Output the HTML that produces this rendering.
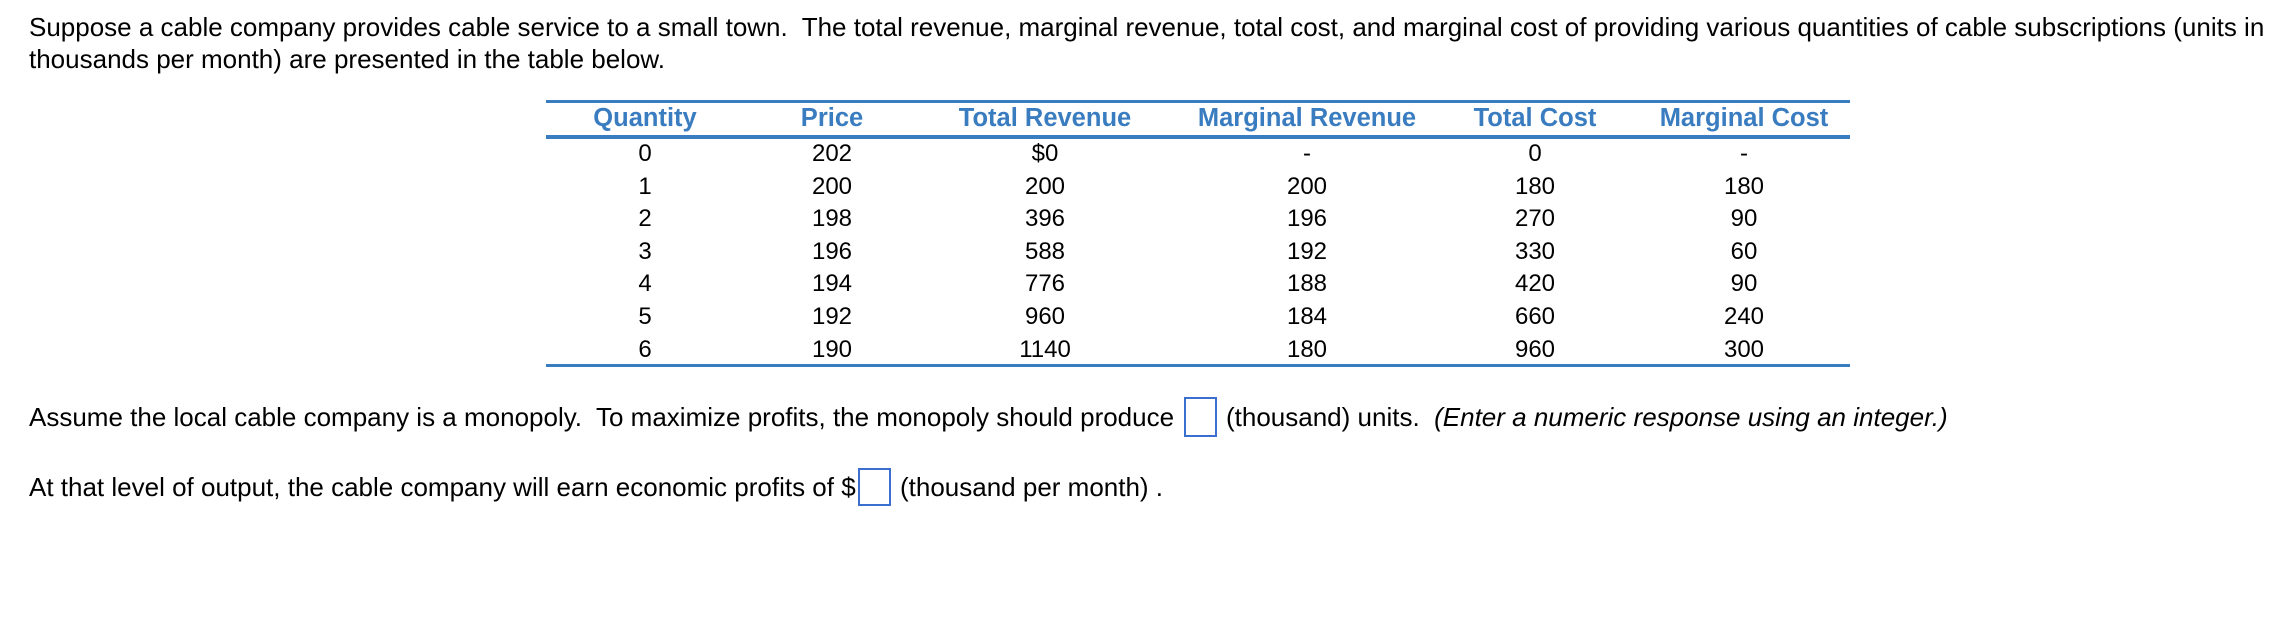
<!DOCTYPE html>
<html><head><meta charset="utf-8"><style>
body{margin:0;width:2296px;height:638px;background:#fff;position:relative;overflow:hidden;font-family:"Liberation Sans",Arial,sans-serif;color:#000}
.t{position:absolute;font-size:26px;white-space:nowrap;line-height:1}
.c{position:absolute;font-size:24px;line-height:1;transform:translateX(-50%);white-space:nowrap}
.h{color:#3a7cc0;font-weight:bold;font-size:25.5px}
.rule{position:absolute;left:546px;width:1304px;background:#3a7cc0}
.box{position:absolute;border:2px solid #3a6fd0;box-sizing:border-box;background:#fff}
</style></head><body>
<div class="t" style="left:29px;top:14px">Suppose a cable company provides cable service to a small town.&nbsp; The total revenue, marginal revenue, total cost, and marginal cost of providing various quantities of cable subscriptions (units in</div>
<div class="t" style="left:29px;top:46px">thousands per month) are presented in the table below.</div>

<div class="rule" style="top:100px;height:3px"></div>
<div class="rule" style="top:135px;height:4px"></div>
<div class="rule" style="top:364px;height:3px"></div>
<div id="tbl"></div>

<div class="t" style="left:29px;top:404px">Assume the local cable company is a monopoly.&nbsp; To maximize profits, the monopoly should produce</div>
<div class="box" style="left:1184px;top:397px;width:33px;height:40px"></div>
<div class="t" style="left:1226px;top:404px">(thousand) units.&nbsp; <i>(Enter a numeric response using an integer.)</i></div>

<div class="t" style="left:29px;top:474px">At that level of output, the cable company will earn economic profits of $</div>
<div class="box" style="left:858px;top:468px;width:33px;height:38px"></div>
<div class="t" style="left:900px;top:474px">(thousand per month) .</div>

<script>
const headers=["Quantity","Price","Total Revenue","Marginal Revenue","Total Cost","Marginal Cost"];
const quantity=["0","1","2","3","4","5","6"];
const price=["202","200","198","196","194","192","190"];
const totalRevenue=["$0","200","396","588","776","960","1140"];
const marginalRevenue=["-","200","196","192","188","184","180"];
const totalCost=["0","180","270","330","420","660","960"];
const marginalCost=["-","180","90","60","90","240","300"];
const cols=[quantity,price,totalRevenue,marginalRevenue,totalCost,marginalCost];
const names=["quantity","price","total-revenue","marginal-revenue","total-cost","marginal-cost"];
const xs=[645,832,1045,1307,1535,1744];
const tbl=document.getElementById('tbl');
headers.forEach((h,i)=>{
  const d=document.createElement('div');
  d.className='c h';
  
  
  d.style.left=xs[i]+'px';d.style.top='106px';d.textContent=h;tbl.appendChild(d);
});
cols.forEach((col,i)=>{
  col.forEach((v,r)=>{
    const d=document.createElement('div');
    d.className='c';
    
    
    d.style.left=xs[i]+'px';d.style.top=(142+r*32.6)+'px';d.textContent=v;tbl.appendChild(d);
  });
});
</script>
</body></html>
